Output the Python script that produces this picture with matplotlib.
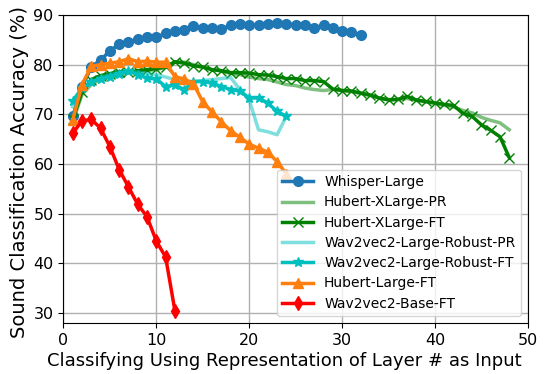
import numpy as np
import matplotlib
matplotlib.use('Agg')
import matplotlib.pyplot as plt

# Valeurs (précision par couche)
whisper_large = [69.6, 75.5, 79.5, 81.0, 82.7, 84.2, 84.5, 85.2, 85.5, 85.5,
                 86.3, 86.7, 86.9, 87.7, 87.3, 87.3, 87.2, 87.9, 88.1, 88.0,
                 87.9, 88.1, 88.4, 88.2, 88.0, 87.9, 87.4, 87.9, 87.3, 86.7,
                 86.6, 86.0]
hubert_xlarge_pr = [68.5, 74.0, 76.0, 77.0, 77.5, 78.0, 78.3, 78.5, 78.8, 79.0,
                    79.5, 80.5, 80.5, 80.0, 79.5, 79.0, 78.7, 78.2, 78.0, 77.5,
                    77.2, 77.0, 76.5, 76.0, 75.8, 75.3, 75.0, 74.8, 75.0, 74.8,
                    74.6, 74.2, 73.8, 73.3, 73.0, 73.0, 73.2, 72.8, 72.5, 72.2,
                    71.8, 71.5, 70.8, 70.3, 69.4, 68.8, 68.3, 66.9]
hubert_xlarge_ft = [69.0, 74.5, 77.0, 77.8, 78.2, 78.6, 78.5, 78.8, 79.0, 79.2,
                    79.5, 80.6, 80.3, 79.8, 79.5, 79.0, 78.8, 78.4, 78.4, 78.3,
                    78.0, 77.9, 77.6, 77.2, 77.2, 76.8, 76.8, 76.6, 75.1, 74.8,
                    74.7, 74.3, 73.9, 73.3, 72.9, 73.0, 73.6, 72.9, 72.6, 72.3,
                    72.0, 71.8, 70.2, 69.6, 67.9, 66.8, 65.5, 61.3]
w2v_robust_pr = [71.5, 75.0, 76.5, 77.5, 78.0, 78.5, 78.8, 78.5, 78.2, 78.0,
                 77.5, 77.0, 76.5, 76.6, 76.8, 77.0, 77.2, 77.4, 75.0, 72.9,
                 66.9, 66.5, 65.9, 69.6]
w2v_robust_ft = [72.7, 75.3, 76.5, 77.2, 77.6, 78.2, 78.8, 78.0, 77.3, 77.1,
                 75.6, 75.9, 75.0, 76.6, 76.6, 76.3, 75.6, 75.0, 74.7, 73.3,
                 73.3, 72.3, 70.6, 69.6]
hubert_large_ft = [68.9, 76.0, 79.7, 80.0, 80.3, 80.6, 81.2, 80.6, 80.7, 80.5,
                   80.5, 77.6, 77.1, 76.2, 72.5, 70.5, 68.5, 66.7, 65.4, 64.0,
                   63.2, 62.4, 60.5, 58.0]
w2v_base_ft = [66.2, 68.7, 69.0, 67.2, 63.5, 58.9, 55.4, 51.9, 49.4, 44.5,
               41.3, 30.5]

def layers(v):
    return np.arange(1, len(v) + 1)

fig = plt.figure(figsize=(5.47, 3.74), dpi=100)
ax = fig.add_axes([0.116, 0.136, 0.849, 0.824])

ax.plot(layers(whisper_large), whisper_large, '-o', color='tab:blue', lw=2.5, ms=7, label='Whisper-Large')
ax.plot(layers(hubert_xlarge_pr), hubert_xlarge_pr, '-', color='g', alpha=0.5, lw=2.5, label='Hubert-XLarge-PR')
ax.plot(layers(hubert_xlarge_ft), hubert_xlarge_ft, '-x', color='g', lw=2.5, ms=7, label='Hubert-XLarge-FT')
ax.plot(layers(w2v_robust_pr), w2v_robust_pr, '-', color='c', alpha=0.5, lw=2.5, label='Wav2vec2-Large-Robust-PR')
ax.plot(layers(w2v_robust_ft), w2v_robust_ft, '-*', color='c', lw=2.5, ms=7, label='Wav2vec2-Large-Robust-FT')
ax.plot(layers(hubert_large_ft), hubert_large_ft, '-^', color='tab:orange', lw=2.5, ms=7, label='Hubert-Large-FT')
ax.plot(layers(w2v_base_ft), w2v_base_ft, '-d', color='r', lw=2.5, ms=7, label='Wav2vec2-Base-FT')

ax.set_xlim(0, 50)
ax.set_ylim(28, 90)
ax.set_xticks([0, 10, 20, 30, 40, 50])
ax.set_yticks([30, 40, 50, 60, 70, 80, 90])
ax.tick_params(labelsize=11.5)
ax.grid(True, color='#b0b0b0', lw=1)
ax.set_xlabel('Classifying Using Representation of Layer # as Input', fontsize=13, labelpad=3)
ax.xaxis.label.set_x(0.475)
ax.set_ylabel('Sound Classification Accuracy (%)', fontsize=14, labelpad=3)
ax.yaxis.label.set_y(0.49)
ax.legend(loc='lower right', fontsize=10, handlelength=2.2, labelspacing=0.45)

plt.savefig('out.png', dpi=100)
